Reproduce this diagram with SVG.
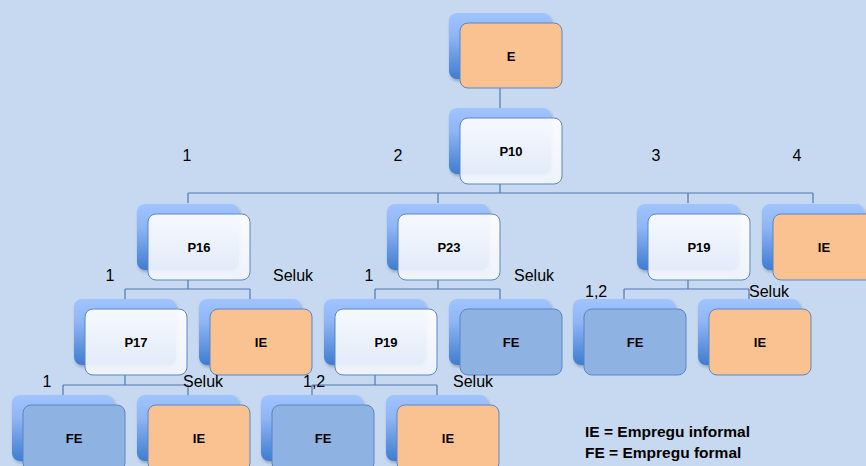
<svg xmlns="http://www.w3.org/2000/svg" width="866" height="466" viewBox="0 0 866 466">
<defs>
<linearGradient id="gBack" x1="0" y1="0" x2="0" y2="1">
<stop offset="0" stop-color="#a0c4ff"/>
<stop offset="0.35" stop-color="#8fb5f5"/>
<stop offset="1" stop-color="#3f7cd0"/>
</linearGradient>
<linearGradient id="gWhite" x1="0" y1="0" x2="0" y2="1">
<stop offset="0" stop-color="#ffffff"/>
<stop offset="1" stop-color="#f2f6fd"/>
</linearGradient>
<filter id="sh" x="-10%" y="-10%" width="130%" height="130%">
<feDropShadow dx="1" dy="2" stdDeviation="1.5" flood-color="#000" flood-opacity="0.25"/>
</filter>
<g id="back"><rect x="-11" y="-10" width="102" height="66" rx="8" fill="url(#gBack)" filter="url(#sh)"/></g>
</defs>
<style>
.fw{fill:url(#gWhite);fill-opacity:0.9;stroke:#5b86c3;stroke-width:1}
.fo{fill:#fac191;stroke:#5b86c3;stroke-width:1}
.fb{fill:#8eb3e2;stroke:#5b86c3;stroke-width:1}
.nl{font-family:"Liberation Sans",Arial,sans-serif;font-weight:bold;font-size:13px;fill:#000;text-anchor:middle}
.lb{font-family:"Liberation Sans",Arial,sans-serif;font-size:16px;fill:#000}
.lg{font-family:"Liberation Sans",Arial,sans-serif;font-size:15.5px;font-weight:bold;fill:#000}
.cn{fill:none;stroke:#4f79b5;stroke-width:1.2}
</style>
<rect width="866" height="466" fill="#c6d9f0"/>

<g id="connectors" class="cn">
<path d="M500,88V108"/>
<path d="M500,184V193M188,193H813M188,193V203M438,193V203M688,193V203M813,193V203"/>
<path d="M188,280V289M125,289H250M125,289V299M250,289V299"/>
<path d="M438,280V289M375,289H500M375,289V299M500,289V299"/>
<path d="M688,280V289M624,289H749M624,289V299M749,289V299"/>
<path d="M125,375V385M63,385H188M63,385V395M188,385V395"/>
<path d="M375,375V385M312,385H437M312,385V395M437,385V395"/>
</g>

<g id="node-E" transform="translate(460,23)"><use href="#back"/><rect width="102" height="65" rx="8" class="fo"/><text x="51" y="38" class="nl">E</text></g>
<g id="node-P10" transform="translate(460,118)"><use href="#back"/><rect width="102" height="66" rx="8" class="fw"/><text x="51" y="38" class="nl">P10</text></g>

<g id="node-P16" transform="translate(148,214)"><use href="#back"/><rect width="102" height="66" rx="8" class="fw"/><text x="51" y="38" class="nl">P16</text></g>
<g id="node-P23" transform="translate(398,214)"><use href="#back"/><rect width="102" height="66" rx="8" class="fw"/><text x="51" y="38" class="nl">P23</text></g>
<g id="node-P19a" transform="translate(648,214)"><use href="#back"/><rect width="102" height="66" rx="8" class="fw"/><text x="51" y="38" class="nl">P19</text></g>
<g id="node-IE1" transform="translate(773,214)"><use href="#back"/><rect width="102" height="66" rx="8" class="fo"/><text x="51" y="38" class="nl">IE</text></g>

<g id="node-P17" transform="translate(85,309)"><use href="#back"/><rect width="102" height="66" rx="8" class="fw"/><text x="51" y="38" class="nl">P17</text></g>
<g id="node-IE2" transform="translate(210,309)"><use href="#back"/><rect width="102" height="66" rx="8" class="fo"/><text x="51" y="38" class="nl">IE</text></g>
<g id="node-P19b" transform="translate(335,309)"><use href="#back"/><rect width="102" height="66" rx="8" class="fw"/><text x="51" y="38" class="nl">P19</text></g>
<g id="node-FE1" transform="translate(460,309)"><use href="#back"/><rect width="102" height="66" rx="8" class="fb"/><text x="51" y="38" class="nl">FE</text></g>
<g id="node-FE2" transform="translate(584,309)"><use href="#back"/><rect width="102" height="66" rx="8" class="fb"/><text x="51" y="38" class="nl">FE</text></g>
<g id="node-IE3" transform="translate(709,309)"><use href="#back"/><rect width="102" height="66" rx="8" class="fo"/><text x="51" y="38" class="nl">IE</text></g>

<g id="node-FE3" transform="translate(23,405)"><use href="#back"/><rect width="102" height="66" rx="8" class="fb"/><text x="51" y="38" class="nl">FE</text></g>
<g id="node-IE4" transform="translate(148,405)"><use href="#back"/><rect width="102" height="66" rx="8" class="fo"/><text x="51" y="38" class="nl">IE</text></g>
<g id="node-FE4" transform="translate(272,405)"><use href="#back"/><rect width="102" height="66" rx="8" class="fb"/><text x="51" y="38" class="nl">FE</text></g>
<g id="node-IE5" transform="translate(397,405)"><use href="#back"/><rect width="102" height="66" rx="8" class="fo"/><text x="51" y="38" class="nl">IE</text></g>

<g id="labels">
<text x="187" y="161" class="lb" text-anchor="middle">1</text>
<text x="398" y="161" class="lb" text-anchor="middle">2</text>
<text x="656" y="161" class="lb" text-anchor="middle">3</text>
<text x="797" y="161" class="lb" text-anchor="middle">4</text>
<text x="110" y="281" class="lb" text-anchor="middle">1</text>
<text x="273" y="281" class="lb">Seluk</text>
<text x="369" y="281" class="lb" text-anchor="middle">1</text>
<text x="514" y="281" class="lb">Seluk</text>
<text x="585" y="297" class="lb">1,2</text>
<text x="749" y="297" class="lb">Seluk</text>
<text x="47" y="387" class="lb" text-anchor="middle">1</text>
<text x="183" y="387" class="lb">Seluk</text>
<text x="303" y="387" class="lb">1,2</text>
<text x="453" y="387" class="lb">Seluk</text>
</g>

<g id="legend">
<text x="585" y="437" class="lg">IE = Empregu informal</text>
<text x="585" y="458" class="lg">FE = Empregu formal</text>
</g>
</svg>
